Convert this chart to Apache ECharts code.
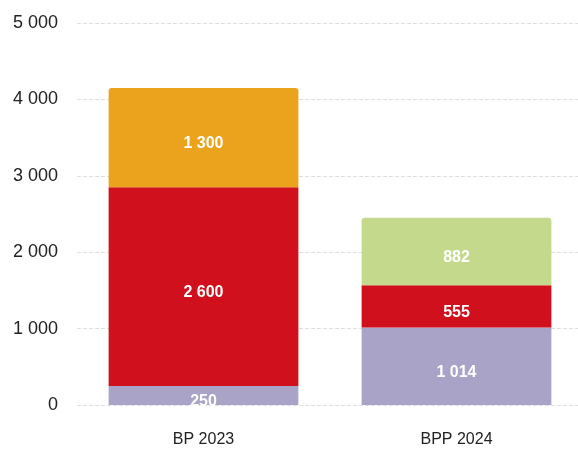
<!DOCTYPE html>
<html>
<head>
<meta charset="utf-8">
<script src="https://cdn.jsdelivr.net/npm/echarts@6/dist/echarts.min.js"></script>
<style>
  html, body { margin: 0; padding: 0; background: #fff; }
  #chart { width: 578px; height: 455px; }
</style>
</head>
<body>
<div id="chart"></div>
<script>
const categories = ['BP 2023', 'BPP 2024'];
const bottomValues = [250, 1014];
const middleValues = [2600, 555];
const topValues = [1300, 882];
const topColors = ['#eba31e', '#c4d98c'];

// thousands separated by a space, as in the source
const fmt = (v) => String(v).replace(/\B(?=(\d{3})+(?!\d))/g, ' ');

const chart = echarts.init(document.getElementById('chart'));

const labelStyle = {
  show: true,
  position: 'inside',
  offset: [0, 6],
  color: '#fff',
  fontWeight: 'bold',
  fontSize: 16,
  fontFamily: 'Liberation Sans, Arial, sans-serif',
  formatter: (p) => fmt(p.value)
};

chart.setOption({
  animation: false,
  grid: { left: 77, width: 506, top: 23, bottom: 50, outerBoundsMode: 'none', containLabel: false },
  xAxis: {
    type: 'category',
    data: categories,
    axisLine: { show: false },
    axisTick: { show: false },
    axisLabel: { color: '#222', fontSize: 16, margin: 27, fontFamily: 'Liberation Sans, Arial, sans-serif' }
  },
  yAxis: {
    type: 'value',
    min: 0,
    max: 5000,
    interval: 1000,
    axisLabel: {
      color: '#222',
      fontSize: 18,
      margin: 19,
      fontFamily: 'Liberation Sans, Arial, sans-serif',
      formatter: (v) => fmt(v)
    },
    splitLine: { lineStyle: { color: '#dedede', type: 'dashed' } }
  },
  series: [
    {
      name: 'bottom',
      type: 'bar',
      stack: 'total',
      barWidth: '75%',
      data: bottomValues,
      itemStyle: { color: '#a9a4c7' },
      label: labelStyle
    },
    {
      name: 'middle',
      type: 'bar',
      stack: 'total',
      data: middleValues,
      itemStyle: { color: '#d0111d' },
      label: labelStyle
    },
    {
      name: 'top',
      type: 'bar',
      stack: 'total',
      data: topValues.map((v, i) => ({ value: v, itemStyle: { color: topColors[i], borderRadius: [3, 3, 0, 0] } })),
      label: labelStyle
    }
  ]
});
</script>
</body>
</html>
